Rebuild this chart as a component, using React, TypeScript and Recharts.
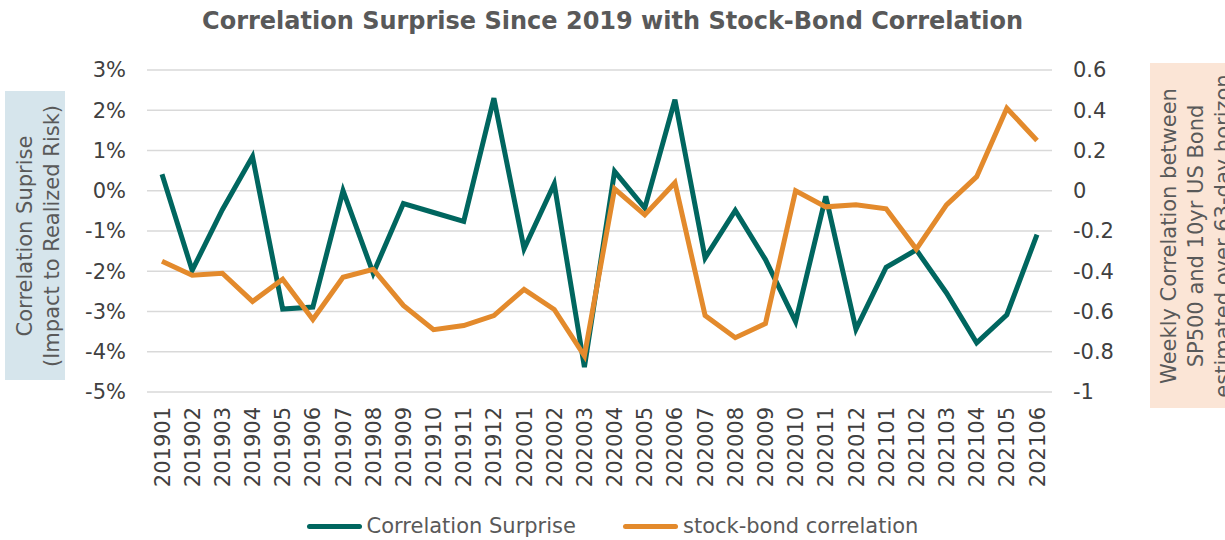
import { LineChart, Line, XAxis, YAxis, CartesianGrid, Legend } from 'recharts'

const periods = [
  '201901', '201902', '201903', '201904', '201905', '201906', '201907', '201908', '201909', '201910',
  '201911', '201912', '202001', '202002', '202003', '202004', '202005', '202006', '202007', '202008',
  '202009', '202010', '202011', '202012', '202101', '202102', '202103', '202104', '202105', '202106',
]

// percent units
const surprise = [
  0.41, -1.98, -0.47, 0.85, -2.94, -2.89, 0.0, -2.05, -0.32, -0.54,
  -0.76, 2.3, -1.44, 0.17, -4.38, 0.48, -0.43, 2.26, -1.67, -0.49,
  -1.71, -3.25, -0.14, -3.44, -1.9, -1.47, -2.54, -3.78, -3.08, -1.09,
]

const stockBond = [
  -0.35, -0.42, -0.41, -0.55, -0.44, -0.64, -0.43, -0.39, -0.57, -0.69,
  -0.67, -0.62, -0.49, -0.59, -0.82, 0.01, -0.12, 0.04, -0.62, -0.73,
  -0.66, 0.0, -0.08, -0.07, -0.09, -0.29, -0.07, 0.07, 0.41, 0.25,
]

const leftTicks = [-5, -4, -3, -2, -1, 0, 1, 2, 3]
const rightTicks = [-1, -0.8, -0.6, -0.4, -0.2, 0, 0.2, 0.4, 0.6]

const TEAL = '#00665F'
const ORANGE = '#E38A2C'
const TEXT = '#595959'
const TICK = '#404040'

const data = periods.map((p, i) => ({
  period: p,
  surprise: surprise[i],
  stockBond: stockBond[i],
}))

function XTick(props: any) {
  const { x, payload } = props
  return (
    <text
      x={0}
      y={0}
      dy="0.36em"
      textAnchor="end"
      fontSize={21}
      fill={TICK}
      transform={`translate(${x},407) rotate(-90)`}
    >
      {payload.value}
    </text>
  )
}

function LeftTitle() {
  const cy = 236
  return (
    <g>
      <rect x={5} y={91} width={60} height={289} fill="#D6E5EC" />
      <text x={24} y={cy} dy="0.36em" textAnchor="middle" fontSize={21} fill={TEXT}
        transform={`rotate(-90 24 ${cy})`}>
        Correlation Suprise
      </text>
      <text x={51} y={cy} dy="0.36em" textAnchor="middle" fontSize={21} fill={TEXT}
        transform={`rotate(-90 51 ${cy})`}>
        (Impact to Realized Risk)
      </text>
    </g>
  )
}

// the third line runs past the right edge, same as the source image
function RightTitle() {
  const cy = 236
  const lines = [
    'Weekly Correlation between',
    'SP500 and 10yr US Bond',
    'estimated over 63-day horizon',
  ]
  return (
    <g>
      <rect x={1150} y={63} width={80} height={345} fill="#FBE5D6" />
      {lines.map((l, i) => {
        const lx = 1168 + i * 27
        return (
          <text key={i} x={lx} y={cy} dy="0.36em" textAnchor="middle" fontSize={21} fill={TEXT}
            transform={`rotate(-90 ${lx} ${cy})`}>
            {l}
          </text>
        )
      })}
    </g>
  )
}

function LegendBox() {
  const item = (color: string, label: string) => (
    <div style={{ display: 'flex', alignItems: 'center' }}>
      <div style={{ width: 55, height: 5, borderRadius: 3, background: color, marginRight: 5 }} />
      <span style={{ fontSize: 21, color: TEXT }}>{label}</span>
    </div>
  )
  return (
    <div style={{ display: 'flex', justifyContent: 'center', gap: 47, height: 28, alignItems: 'center' }}>
      {item(TEAL, 'Correlation Surprise')}
      {item(ORANGE, 'stock-bond correlation')}
    </div>
  )
}

export default function App() {
  return (
    <div style={{ position: 'absolute', left: 0, top: 0, width: 1225, height: 540, fontFamily: '"DejaVu Sans", Verdana, sans-serif', background: '#fff' }}>
      <div style={{ position: 'absolute', top: 7, left: 0, width: 1225, textAlign: 'center', fontWeight: 'bold', fontSize: 24, color: TEXT, lineHeight: '28px' }}>
        Correlation Surprise Since 2019 with Stock-Bond Correlation
      </div>
      <LineChart width={1225} height={540} data={data} margin={{ top: 70, right: 0, left: 0, bottom: 0 }}>
        <CartesianGrid yAxisId="left" vertical={false} stroke="#D9D9D9" strokeWidth={1.5} />
        <XAxis
          dataKey="period"
          interval={0}
          height={120}
          padding={{ left: 15, right: 15 }}
          axisLine={false}
          tickLine={false}
          tick={<XTick />}
        />
        <YAxis
          yAxisId="left"
          width={147}
          domain={[-5, 3]}
          ticks={leftTicks}
          tickFormatter={(v: number) => `${v}%`}
          axisLine={false}
          tickLine={false}
          tickSize={0}
          tickMargin={21}
          tick={{ fill: TICK, fontSize: 21 }}
          label={{ content: () => <LeftTitle /> }}
        />
        <YAxis
          yAxisId="right"
          orientation="right"
          width={173}
          domain={[-1, 0.6]}
          ticks={rightTicks}
          tickFormatter={(v: number) => `${Math.round(v * 10) / 10}`}
          axisLine={false}
          tickLine={false}
          tickSize={0}
          tickMargin={21}
          tick={{ fill: TICK, fontSize: 21, textAnchor: 'start' }}
          label={{ content: () => <RightTitle /> }}
        />
        <Line yAxisId="left" type="linear" dataKey="surprise" name="Correlation Surprise" stroke={TEAL}
          strokeWidth={5} dot={false} isAnimationActive={false} />
        <Line yAxisId="right" type="linear" dataKey="stockBond" name="stock-bond correlation" stroke={ORANGE}
          strokeWidth={5} dot={false} isAnimationActive={false} />
        <Legend verticalAlign="bottom" content={() => <LegendBox />} />
      </LineChart>
    </div>
  )
}
